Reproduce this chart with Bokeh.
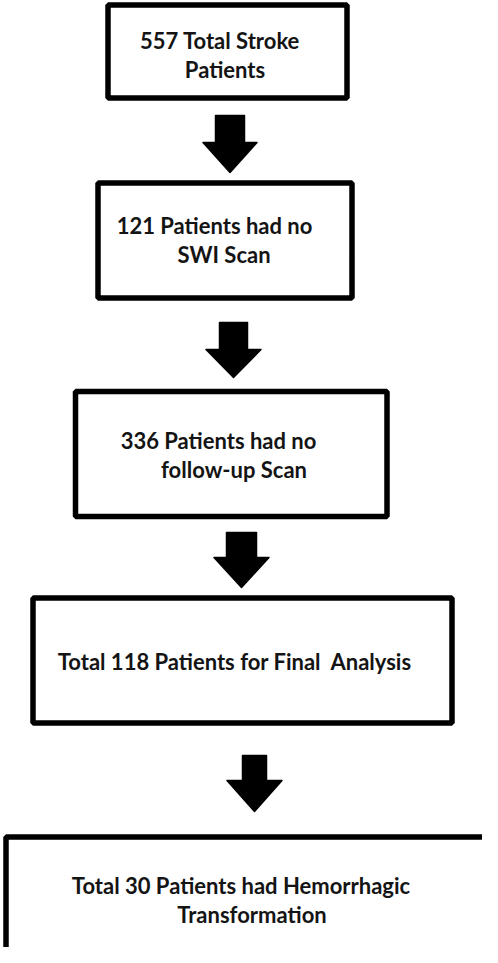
from bokeh.plotting import figure
from bokeh.models import Range1d
from bokeh.core.properties import value
from bokeh.embed import file_html
from bokeh.resources import INLINE

# ---- content ----
line_texts = [
    "557 Total Stroke", "Patients",
    "121 Patients had no", "SWI Scan",
    "336 Patients had no", "follow-up Scan",
    "Total 118 Patients for Final\u00a0 Analysis",
    "Total 30 Patients had Hemorrhagic", "Transformation",
]

# ---- layout (page pixel coordinates) ----
box_left = [115.5, 105.5, 83, 40.5, 13.5]
box_right = [354.5, 359.5, 394.5, 459.5, 520]
box_top = [12.5, 190.5, 399, 605.5, 844.5]
box_bottom = [105.5, 305.5, 524, 730.5, 990]

text_x = [227.5, 232.5, 222, 231.5, 226, 241.5, 242.5, 248.5, 259.5]
text_y = [48, 77, 233, 262, 448, 477, 669, 893, 922]

arrow_cx = [237.5, 241, 249, 262]
arrow_shaft_half = [14.5, 14, 15, 12]
arrow_head_half = [27, 27.5, 27.5, 27.5]
arrow_shaft_top = [123, 330, 540, 763]
arrow_head_top = [150, 357, 565, 788]
arrow_tip = [180, 385, 595, 819]

W, H = 482, 947
p = figure(width=W, height=H, output_backend="svg", toolbar_location=None,
           x_range=Range1d(8, 8 + W), y_range=Range1d(8 + H, 8),
           min_border=0, background_fill_color="white", border_fill_color="white")
p.axis.visible = False
p.grid.visible = False
p.outline_line_color = None

p.quad(left=box_left, right=box_right, top=box_top, bottom=box_bottom,
       fill_color="white", line_color="black", line_width=5.5)

xs, ys = [], []
for cx, sh, hh, st, ht, tp in zip(arrow_cx, arrow_shaft_half, arrow_head_half,
                                  arrow_shaft_top, arrow_head_top, arrow_tip):
    xs.append([cx - sh, cx + sh, cx + sh, cx + hh, cx, cx - hh, cx - sh])
    ys.append([st, st, ht, ht, tp, ht, ht])
p.patches(xs=xs, ys=ys, fill_color="black", line_color="black", line_width=1.5,
          line_join="round")

p.text(x=text_x, y=text_y, text=line_texts, text_align="center",
       text_baseline="middle", text_font=value("Lato"), text_font_style="bold",
       text_font_size="22px", text_color="#141414")

open("out.html", "w").write(file_html(p, INLINE))
